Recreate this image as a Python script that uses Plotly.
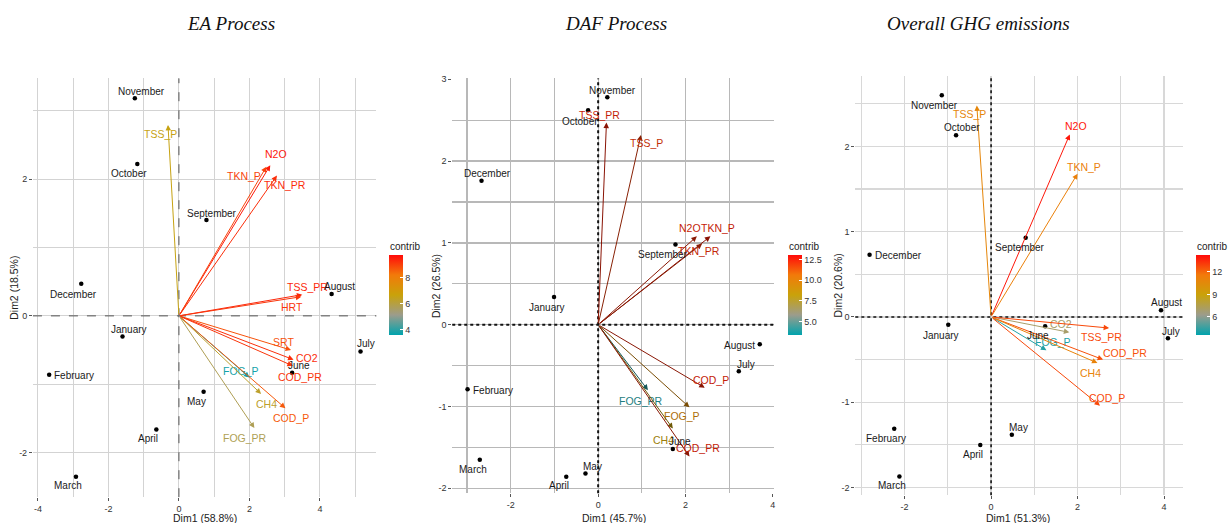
import re
import plotly.graph_objects as go
from plotly.colors import sample_colorscale

W, H = 1228, 523

# ---------------- DATA ----------------
months = ["January", "February", "March", "April", "May", "June", "July",
          "August", "September", "October", "November", "December"]

# EA Process
ea_month_x = [-1.60, -3.68, -2.92, -0.64, 0.70, 3.21, 5.15, 4.33, 0.78, -1.18, -1.25, -2.77]
ea_month_y = [-0.30, -0.86, -2.35, -1.66, -1.11, -0.83, -0.52, 0.32, 1.40, 2.22, 3.18, 0.47]
ea_vars = ["TSS_P", "N2O", "TKN_P", "TKN_PR", "TSS_PR", "HRT", "SRT", "CO2", "COD_PR",
           "FOG_P", "CH4", "COD_P", "FOG_PR"]
ea_var_x = [-0.31, 2.59, 2.48, 2.78, 3.50, 3.47, 3.18, 3.25, 3.23, 2.00, 2.33, 3.02, 2.14]
ea_var_y = [2.79, 2.20, 2.18, 2.05, 0.31, 0.28, -0.50, -0.64, -0.73, -0.90, -1.14, -1.35, -1.64]
ea_contrib = [6.6, 9.6, 9.0, 9.3, 9.4, 9.2, 8.8, 9.3, 9.2, 3.8, 6.3, 8.7, 5.8]
ea_dim = ["Dim1 (58.8%)", "Dim2 (18.5%)"]

# DAF Process
daf_month_x = [-1.01, -2.99, -2.71, -0.73, -0.29, 1.71, 3.22, 3.70, 1.77, -0.23, 0.21, -2.67]
daf_month_y = [0.34, -0.79, -1.65, -1.86, -1.82, -1.52, -0.57, -0.24, 0.98, 2.62, 2.78, 1.76]
daf_vars = ["TSS_PR", "TSS_P", "N2O", "TKN_P", "TKN_PR", "COD_P", "FOG_P", "FOG_PR", "CH4", "COD_PR"]
daf_var_x = [0.19, 0.98, 2.26, 2.57, 2.38, 2.44, 2.09, 1.14, 1.71, 2.09]
daf_var_y = [2.47, 2.32, 1.08, 1.08, 0.99, -0.77, -1.01, -0.80, -1.27, -1.61]
daf_contrib = [12.5, 12.0, 12.3, 12.6, 12.2, 12.4, 9.5, 4.0, 8.2, 12.4]
daf_dim = ["Dim1 (45.7%)", "Dim2 (26.5%)"]

# Overall GHG emissions
ghg_month_x = [-0.99, -2.24, -2.12, -0.25, 0.48, 1.25, 4.09, 3.93, 0.80, -0.81, -1.14, -2.81]
ghg_month_y = [-0.09, -1.31, -1.87, -1.50, -1.38, -0.11, -0.25, 0.08, 0.93, 2.13, 2.60, 0.73]
ghg_vars = ["TSS_P", "N2O", "TKN_P", "CO2", "TSS_PR", "FOG_P", "COD_PR", "CH4", "COD_P"]
ghg_var_x = [-0.33, 1.82, 2.00, 1.81, 2.73, 1.28, 2.59, 2.46, 2.52]
ghg_var_y = [2.48, 2.14, 1.68, -0.18, -0.13, -0.39, -0.50, -0.54, -1.04]
ghg_contrib = [10.8, 14.0, 11.2, 7.0, 12.8, 4.2, 12.6, 11.0, 12.8]
ghg_dim = ["Dim1 (51.3%)", "Dim2 (20.6%)"]

titles = ["EA Process", "DAF Process", "Overall GHG emissions"]

# ---------------- STYLE ----------------
cscale = [[0, "#00A3AD"], [0.25, "#9C9C8C"], [0.5, "#C9A20A"], [0.75, "#F27A0A"], [1, "#FF0A0A"]]


def px_x(p):
    return p / W


def px_y(p):
    return 1 - p / H


def darken(c, f):
    r, g, b = [float(v) for v in re.findall(r"[\d.]+", c)[:3]]
    return "rgb(%d,%d,%d)" % (r * f, g * f, b * f)


# label offsets (xshift, yshift, xanchor) in pixels
ea_mlab = {"January": (6, 7, "center"), "February": (3, -1, "left"), "March": (-8, -9, "center"),
           "April": (-8, -9, "center"), "May": (-7, -10, "center"), "June": (7, 7, "center"),
           "July": (5, 8, "center"), "August": (8, 7, "center"), "September": (6, 7, "center"),
           "October": (-8, -10, "center"), "November": (7, 7, "center"), "December": (-8, -11, "center")}
ea_vlab = {"TSS_P": (-7, -9), "N2O": (6, 11), "TKN_P": (-22, -9), "TKN_PR": (8, -9), "TSS_PR": (5, 8),
           "HRT": (-9, -10), "SRT": (-8, 8), "CO2": (13, 2), "COD_PR": (7, -11), "FOG_P": (-8, 6),
           "CH4": (5, -10), "COD_P": (6, -10), "FOG_PR": (-9, -10)}
daf_mlab = {"January": (-7, -11, "center"), "February": (3, -1, "left"), "March": (-7, -10, "center"),
            "April": (-7, -9, "center"), "May": (7, 7, "center"), "June": (7, 8, "center"),
            "July": (7, 7, "center"), "August": (-3, -1, "right"), "September": (-12, -10, "center"),
            "October": (-8, -11, "center"), "November": (5, 7, "center"), "December": (6, 7, "center")}
daf_vlab = {"TSS_PR": (-7, 8), "TSS_P": (6, -8), "N2O": (-7, 8), "TKN_P": (8, 8), "TKN_PR": (-3, -7),
            "COD_P": (6, 8), "FOG_P": (-7, -9), "FOG_PR": (-7, -11), "CH4": (-9, -11), "COD_PR": (9, 8)}
ghg_mlab = {"January": (-7, -11, "center"), "February": (-8, -10, "center"), "March": (-7, -9, "center"),
            "April": (-7, -10, "center"), "May": (7, 7, "center"), "June": (-7, -9, "center"),
            "July": (3, 7, "center"), "August": (5, 8, "center"), "September": (-6, -10, "center"),
            "October": (6, 8, "center"), "November": (-7, -10, "center"), "December": (3, -1, "left")}
ghg_vlab = {"TSS_P": (-7, -9), "N2O": (6, 8), "TKN_P": (6, 7), "CO2": (-8, 8), "TSS_PR": (-8, -9),
            "FOG_P": (7, 8), "COD_PR": (22, 7), "CH4": (-7, -10), "COD_P": (7, 8)}

panels = [
    dict(mx=ea_month_x, my=ea_month_y, vars=ea_vars, vx=ea_var_x, vy=ea_var_y, contrib=ea_contrib,
         dim=ea_dim, title=titles[0], mlab=ea_mlab, vlab=ea_vlab,
         xdom=[px_x(33), px_x(377)], ydom=[px_y(497), px_y(75)],
         xr=[-4.14, 5.6], yr=[-2.65, 3.47],
         xmaj=[-4, -2, 0, 2, 4], xmin=[-3, -1, 1, 3, 5], ymaj=[-2, 0, 2], ymin=[-1, 1, 3],
         grid="#d3d3d3", gw=1, zl=dict(color="#555", dash="dash", width=1),
         cmin=3.6, cmax=9.8, cbt=[4, 6, 8], cbtt=["4", "6", "8"], cbx=390,
         tcx=231, x1t=(205, 518), y2t=(14, 286), arrf=1.0, labf=1.0),
    dict(mx=daf_month_x, my=daf_month_y, vars=daf_vars, vx=daf_var_x, vy=daf_var_y, contrib=daf_contrib,
         dim=daf_dim, title=titles[1], mlab=daf_mlab, vlab=daf_vlab,
         xdom=[px_x(453), px_x(775)], ydom=[px_y(493), px_y(75)],
         xr=[-3.34, 4.02], yr=[-2.06, 3.01],
         xmaj=[-2, 0, 2, 4], xmin=[-3, -1, 1, 3], ymaj=[-2, -1, 0, 1, 2, 3],
         ymin=[-1.5, -0.5, 0.5, 1.5, 2.5],
         grid="#b8b8b8", gw=1.3, zl=dict(color="#111", dash="dot", width=2),
         cmin=3.4, cmax=13.1, cbt=[5, 7.5, 10, 12.5], cbtt=["5.0", "7.5", "10.0", "12.5"], cbx=789,
         tcx=617, x1t=(615, 518), y2t=(437, 284), arrf=0.55, labf=0.78),
    dict(mx=ghg_month_x, my=ghg_month_y, vars=ghg_vars, vx=ghg_var_x, vy=ghg_var_y, contrib=ghg_contrib,
         dim=ghg_dim, title=titles[2], mlab=ghg_mlab, vlab=ghg_vlab,
         xdom=[px_x(856.7), px_x(1185)], ydom=[px_y(495), px_y(73)],
         xr=[-3.14, 4.44], yr=[-2.09, 2.82],
         xmaj=[-2, 0, 2, 4], xmin=[-3, -1, 1, 3], ymaj=[-2, -1, 0, 1, 2],
         ymin=[-1.5, -0.5, 0.5, 1.5, 2.5],
         grid="#d8d8d8", gw=1.2, zl=dict(color="#111", dash="dot", width=1.6),
         cmin=3.6, cmax=14.3, cbt=[6, 9, 12], cbtt=["6", "9", "12"], cbx=1198,
         tcx=980, x1t=(1020, 518), y2t=(839, 284), arrf=1.0, labf=1.0),
]

fig = go.Figure()
annotations = []
shapes = []
font_main = "Liberation Sans, Arial, sans-serif"

for i, p in enumerate(panels):
    k = "" if i == 0 else str(i + 1)
    xa, ya = "x" + k, "y" + k
    tick_font = dict(size=9, color="#333", family=font_main)
    fig.layout["xaxis" + k] = dict(
        domain=p["xdom"], range=p["xr"], anchor=ya, tickmode="array",
        tickvals=p["xmaj"], ticktext=["%g" % v for v in p["xmaj"]],
        showgrid=True, gridcolor=p["grid"], gridwidth=p["gw"], zeroline=False, showline=False,
        ticks="outside", ticklen=3, tickcolor="#555", tickfont=tick_font,
        minor=dict(tickvals=p["xmin"], showgrid=True, gridcolor=p["grid"], gridwidth=p["gw"], ticks=""),
        fixedrange=True)
    fig.layout["yaxis" + k] = dict(
        domain=p["ydom"], range=p["yr"], anchor=xa, tickmode="array",
        tickvals=p["ymaj"], ticktext=["%g" % v for v in p["ymaj"]],
        showgrid=True, gridcolor=p["grid"], gridwidth=p["gw"], zeroline=False, showline=False,
        ticks="outside", ticklen=3, tickcolor="#555", tickfont=tick_font,
        minor=dict(tickvals=p["ymin"], showgrid=True, gridcolor=p["grid"], gridwidth=p["gw"], ticks=""),
        fixedrange=True)

    # zero dashed lines
    shapes.append(dict(type="line", xref=xa, yref=ya + " domain", x0=0, x1=0, y0=0, y1=1,
                       line=p["zl"], layer="above"))
    shapes.append(dict(type="line", xref=xa + " domain", yref=ya, x0=0, x1=1, y0=0, y1=0,
                       line=p["zl"], layer="above"))

    # colors from contrib
    norm = [(c - p["cmin"]) / (p["cmax"] - p["cmin"]) for c in p["contrib"]]
    cols = sample_colorscale(cscale, norm)

    # arrows
    for v, x, y, c in zip(p["vars"], p["vx"], p["vy"], cols):
        ac = darken(c, p["arrf"]) if p["arrf"] != 1.0 else c
        annotations.append(dict(x=x, y=y, ax=0, ay=0, xref=xa, yref=ya, axref=xa, ayref=ya,
                                text="", showarrow=True, arrowhead=2, arrowsize=1.1, arrowwidth=1,
                                arrowcolor=ac, standoff=0, startstandoff=0))
        lc = darken(c, p["labf"]) if p["labf"] != 1.0 else c
        dx, dy = p["vlab"][v]
        annotations.append(dict(x=x, y=y, xref=xa, yref=ya, text=v, showarrow=False,
                                xshift=dx, yshift=dy, xanchor="center", yanchor="middle",
                                font=dict(size=10.5, color=lc, family=font_main)))

    # colorbar carrier (arrow tips coloured by contrib)
    fig.add_trace(go.Scatter(
        x=p["vx"], y=p["vy"], xaxis=xa, yaxis=ya, mode="markers", hoverinfo="skip", showlegend=False,
        marker=dict(size=2, opacity=0, color=p["contrib"], colorscale=cscale,
                    cmin=p["cmin"], cmax=p["cmax"], showscale=True,
                    colorbar=dict(x=px_x(p["cbx"]), xanchor="left", y=px_y(293), yanchor="middle",
                                  len=80, lenmode="pixels", thickness=14, thicknessmode="pixels",
                                  xpad=0, ypad=0, outlinewidth=0, tickmode="array",
                                  tickvals=p["cbt"], ticktext=p["cbtt"], ticks="inside",
                                  ticklen=3, tickcolor="white",
                                  tickfont=dict(size=9, color="#333", family=font_main)))))
    annotations.append(dict(x=px_x(p["cbx"] - 1), y=px_y(244), xref="paper", yref="paper",
                            text="contrib", showarrow=False, xanchor="left", yanchor="middle",
                            font=dict(size=10, color="#222", family=font_main)))

    # month points
    fig.add_trace(go.Scatter(x=p["mx"], y=p["my"], xaxis=xa, yaxis=ya, mode="markers",
                             marker=dict(size=4.5, color="black"), showlegend=False, hoverinfo="skip"))
    for m, x, y in zip(months, p["mx"], p["my"]):
        dx, dy, anc = p["mlab"][m]
        annotations.append(dict(x=x, y=y, xref=xa, yref=ya, text=m, showarrow=False,
                                xshift=dx, yshift=dy, xanchor=anc, yanchor="middle",
                                font=dict(size=10, color="#1a1a1a", family=font_main)))

    # axis titles
    annotations.append(dict(x=px_x(p["x1t"][0]), y=px_y(p["x1t"][1]), xref="paper", yref="paper",
                            text=p["dim"][0], showarrow=False, xanchor="center", yanchor="middle",
                            font=dict(size=10.5, color="#222", family=font_main)))
    annotations.append(dict(x=px_x(p["y2t"][0]), y=px_y(p["y2t"][1]), xref="paper", yref="paper",
                            text=p["dim"][1], showarrow=False, xanchor="center", yanchor="middle",
                            textangle=-90, font=dict(size=10.5, color="#222", family=font_main)))
    # panel title
    annotations.append(dict(x=px_x(p["tcx"]), y=px_y(20), xref="paper", yref="paper",
                            text="<i>%s</i>" % p["title"], showarrow=False, xanchor="center",
                            yanchor="middle",
                            font=dict(size=19, color="#111", family="Liberation Serif, Times New Roman, serif")))

fig.update_layout(width=W, height=H, margin=dict(l=0, r=0, t=0, b=0),
                  paper_bgcolor="white", plot_bgcolor="white",
                  annotations=annotations, shapes=shapes, showlegend=False)

fig.write_html("out.html", config={"displayModeBar": False, "staticPlot": True},
               post_script="document.body.style.margin='0px';document.body.style.padding='0px';")
